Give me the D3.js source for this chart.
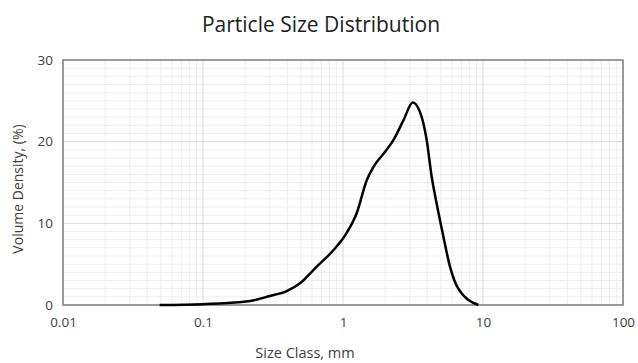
<!DOCTYPE html>
<html>
<head>
<meta charset="utf-8">
<script src="https://cdn.jsdelivr.net/npm/d3@7"></script>
<style>
    body { margin: 0; background: white; }
    text { font-family: "Open Sans", Lato, sans-serif; fill: #404040; }
</style>
</head>
<body>
<svg id="psdChart" width="638" height="363"></svg>
<script>
// values
const sizeClass = [0.049, 0.1, 0.217, 0.3, 0.396, 0.493, 0.649, 0.853, 1.06, 1.25, 1.48, 1.65, 2.05, 2.29, 2.7, 3.15, 3.65, 3.96, 4.3, 4.67, 5.21, 5.81, 6.66, 9.27];
const volumeDensity = [0, 0.1, 0.5, 1.1, 1.7, 2.65, 4.7, 6.7, 8.8, 11.2, 15.3, 16.9, 19, 20.2, 22.6, 24.8, 23, 20.2, 15.7, 12.4, 8.4, 4.7, 2.0, 0];
const xTicks = [0.01, 0.1, 1, 10, 100];
const yTicks = [0, 10, 20, 30];

function drawChart() {
    const svg = d3.select("#psdChart");
    const margin = { top: 60, right: 15, bottom: 58, left: 63 };
    const width = 638 - margin.left - margin.right;
    const height = 363 - margin.top - margin.bottom;
    const g = svg.append("g").attr("transform", `translate(${margin.left},${margin.top})`);

    const x = d3.scaleLog().domain([0.01, 100]).range([0, width]);
    const y = d3.scaleLinear().domain([0, 30]).range([height, 0]);

    // minor gridlines
    const minorX = [];
    for (let e = -2; e < 2; e++) {
        for (let m = 2; m <= 9; m++) minorX.push(m * Math.pow(10, e));
    }
    g.selectAll(".minor-x")
        .data(minorX)
        .enter().append("line")
        .attr("x1", d => x(d)).attr("x2", d => x(d))
        .attr("y1", 0).attr("y2", height)
        .style("stroke", "#efefef");

    g.selectAll(".minor-y")
        .data(d3.range(1, 30).filter(v => v % 10 !== 0))
        .enter().append("line")
        .attr("x1", 0).attr("x2", width)
        .attr("y1", d => y(d)).attr("y2", d => y(d))
        .style("stroke", "#efefef");

    // major gridlines
    g.selectAll(".major-x")
        .data(xTicks)
        .enter().append("line")
        .attr("x1", d => x(d)).attr("x2", d => x(d))
        .attr("y1", 0).attr("y2", height)
        .style("stroke", "#d9d9d9");

    g.selectAll(".major-y")
        .data(yTicks)
        .enter().append("line")
        .attr("x1", 0).attr("x2", width)
        .attr("y1", d => y(d)).attr("y2", d => y(d))
        .style("stroke", "#d9d9d9");

    // frame
    g.append("rect")
        .attr("width", width).attr("height", height)
        .style("fill", "none")
        .style("stroke", "#7f7f7f")
        .style("stroke-width", 1.5);

    // axes (labels only)
    const xAxis = g.append("g")
        .attr("transform", `translate(0,${height})`)
        .call(d3.axisBottom(x).tickValues(xTicks).tickFormat(d => String(d)).tickSize(0).tickPadding(12));
    const yAxis = g.append("g")
        .call(d3.axisLeft(y).tickValues(yTicks).tickSize(0).tickPadding(10));
    [xAxis, yAxis].forEach(a => {
        a.select(".domain").remove();
        a.selectAll("text").style("font-size", "13.5px").style("fill", "#404040")
            .style("font-family", "'Open Sans', Lato, sans-serif");
    });

    // curve
    const points = sizeClass.map((s, i) => ({ s: s, v: volumeDensity[i] }));
    g.append("path")
        .datum(points)
        .attr("d", d3.line().x(d => x(d.s)).y(d => y(d.v)).curve(d3.curveMonotoneX))
        .style("fill", "none")
        .style("stroke", "#000")
        .style("stroke-width", 2.5)
        .style("stroke-linejoin", "round");

    // titles
    svg.append("text")
        .attr("x", 321).attr("y", 32)
        .attr("text-anchor", "middle")
        .style("font-size", "21px")
        .style("fill", "#202020")
        .text("Particle Size Distribution");

    svg.append("text")
        .attr("x", 305).attr("y", 358)
        .attr("text-anchor", "middle")
        .style("font-size", "14.5px")
        .text("Size Class, mm");

    svg.append("text")
        .attr("transform", "rotate(-90)")
        .attr("x", -189).attr("y", 23)
        .attr("text-anchor", "middle")
        .style("font-size", "14px")
        .text("Volume Density, (%)");
}

drawChart();
</script>
</body>
</html>
